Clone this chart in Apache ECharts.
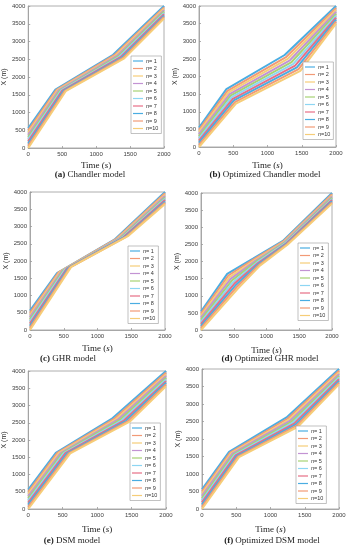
<!DOCTYPE html>
<html><head><meta charset="utf-8">
<script src="https://cdn.jsdelivr.net/npm/echarts@6/dist/echarts.min.js"></script>
<style>html,body{margin:0;padding:0;background:#fff}#c{width:349px;height:550px}</style>
</head><body><div id="c"></div>
<script>
// ---------- data ----------
const seriesNames = ['n= 1','n= 2','n= 3','n= 4','n= 5','n= 6','n= 7','n= 8','n= 9','n=10'];
const xTicks = [0, 500, 1000, 1500, 2000];
const yTicks = [0, 500, 1000, 1500, 2000, 2500, 3000, 3500, 4000];
const captions = ['Chandler model','Optimized Chandler model','GHR model','Optimized GHR model','DSM model','Optimized DSM model'];
const captionLetters = ['(a)','(b)','(c)','(d)','(e)','(f)'];

// (a) Chandler model: [time s, position m]
const chandler = [
  [[0,560],[400,1645],[1250,2625],[2000,4000]],
  [[0,498],[417,1640],[1268,2614],[2000,3961]],
  [[0,436],[434,1635],[1287,2603],[2000,3922]],
  [[0,373],[451,1630],[1305,2592],[2000,3883]],
  [[0,311],[468,1625],[1323,2581],[2000,3844]],
  [[0,249],[484,1620],[1342,2569],[2000,3806]],
  [[0,187],[501,1615],[1360,2558],[2000,3767]],
  [[0,124],[518,1610],[1378,2547],[2000,3728]],
  [[0,62],[535,1605],[1397,2536],[2000,3689]],
  [[0,0],[552,1600],[1415,2525],[2000,3650]]
];
// (b) Optimized Chandler model
const optChandler = [
  [[0,550],[400,1640],[1250,2610],[2000,4000]],
  [[0,489],[416,1594],[1276,2560],[2000,3944]],
  [[0,428],[431,1549],[1301,2510],[2000,3889]],
  [[0,367],[447,1503],[1327,2460],[2000,3833]],
  [[0,306],[462,1458],[1352,2410],[2000,3778]],
  [[0,244],[478,1412],[1378,2360],[2000,3722]],
  [[0,183],[493,1367],[1403,2310],[2000,3667]],
  [[0,122],[509,1321],[1429,2260],[2000,3611]],
  [[0,61],[524,1276],[1454,2210],[2000,3556]],
  [[0,0],[540,1230],[1480,2160],[2000,3500]]
];
// (c) GHR model
const ghr = [
  [[0,560],[400,1650],[1250,2620],[2000,4000]],
  [[0,498],[423,1670],[1272,2631],[2000,3961]],
  [[0,436],[447,1690],[1294,2642],[2000,3922]],
  [[0,373],[470,1710],[1317,2653],[2000,3883]],
  [[0,311],[493,1730],[1339,2664],[2000,3844]],
  [[0,249],[517,1750],[1361,2676],[2000,3806]],
  [[0,187],[540,1770],[1383,2687],[2000,3767]],
  [[0,124],[563,1790],[1406,2698],[2000,3728]],
  [[0,62],[587,1810],[1428,2709],[2000,3689]],
  [[0,0],[610,1830],[1450,2720],[2000,3650]]
];
// (d) Optimized GHR model
const optGhr = [
  [[0,540],[400,1640],[800,2090],[1250,2600],[2000,4000]],
  [[0,480],[418,1591],[811,2067],[1258,2588],[2000,3966]],
  [[0,420],[436,1542],[822,2043],[1266,2576],[2000,3931]],
  [[0,360],[453,1493],[833,2020],[1273,2563],[2000,3897]],
  [[0,300],[471,1444],[844,1997],[1281,2551],[2000,3862]],
  [[0,240],[489,1396],[856,1973],[1289,2539],[2000,3828]],
  [[0,180],[507,1347],[867,1950],[1297,2527],[2000,3793]],
  [[0,120],[524,1298],[878,1927],[1304,2514],[2000,3759]],
  [[0,60],[542,1249],[889,1903],[1312,2502],[2000,3724]],
  [[0,0],[560,1200],[900,1880],[1320,2490],[2000,3690]]
];
// (e) DSM model
const dsm = [
  [[0,560],[400,1630],[1210,2612],[2000,4000]],
  [[0,498],[423,1628],[1240,2604],[2000,3951]],
  [[0,436],[447,1626],[1270,2596],[2000,3902]],
  [[0,373],[470,1623],[1300,2588],[2000,3853]],
  [[0,311],[493,1621],[1330,2580],[2000,3804]],
  [[0,249],[517,1619],[1360,2572],[2000,3756]],
  [[0,187],[540,1617],[1390,2564],[2000,3707]],
  [[0,124],[563,1614],[1420,2556],[2000,3658]],
  [[0,62],[587,1612],[1450,2548],[2000,3609]],
  [[0,0],[610,1610],[1480,2540],[2000,3560]]
];
// (f) Optimized DSM model
const optDsm = [
  [[0,563],[395,1630],[1234,2616],[2000,4000]],
  [[0,500],[411,1613],[1252,2586],[2000,3951]],
  [[0,438],[427,1597],[1271,2557],[2000,3902]],
  [[0,375],[443,1580],[1289,2527],[2000,3853]],
  [[0,313],[459,1563],[1308,2498],[2000,3804]],
  [[0,250],[476,1547],[1326,2468],[2000,3756]],
  [[0,188],[492,1530],[1345,2439],[2000,3707]],
  [[0,125],[508,1513],[1363,2409],[2000,3658]],
  [[0,63],[524,1497],[1382,2380],[2000,3609]],
  [[0,0],[540,1480],[1400,2350],[2000,3560]]
];

// ---------- layout / style ----------
const lineColors = ['#4AADE2','#F29A76','#F6CD78','#C393D3','#A7D274','#8DD6F3','#E76E86','#4AADE2','#F29A76','#F6CD78'];
const panels = [
  {data: chandler,    grid:{left:25, top:6,   width:139, height:142}, yGap:14, xGap:13, lg:{left:131, top:56},  cap:[90,175]},
  {data: optChandler, grid:{left:199,top:6,   width:137, height:141}, yGap:15, xGap:14, lg:{left:303, top:62},  cap:[265,175]},
  {data: ghr,         grid:{left:30, top:192, width:135, height:138}, yGap:18, xGap:14, lg:{left:128, top:246}, cap:[68,359]},
  {data: optGhr,      grid:{left:201,top:193, width:131, height:137}, yGap:17, xGap:16, lg:{left:298, top:243}, cap:[270,359]},
  {data: dsm,         grid:{left:27, top:371, width:139, height:138}, yGap:16, xGap:16, lg:{left:130, top:423}, cap:[72,541]},
  {data: optDsm,      grid:{left:202,top:369, width:137, height:140}, yGap:16, xGap:16, lg:{left:296, top:426}, cap:[272,541]}
];
const axisColor = '#9a9a9a';
const sans = 'Liberation Sans';
const serif = 'Liberation Serif';

const option = {
  animation: false,
  backgroundColor: '#fff',
  grid: [], xAxis: [], yAxis: [], series: [], legend: [], graphic: []
};

panels.forEach((p, i) => {
  option.grid.push(Object.assign({show:true, borderColor:axisColor, borderWidth:0.8, backgroundColor:'#fff', containLabel:false}, p.grid));
  option.xAxis.push({
    type:'value', gridIndex:i,
    min:xTicks[0], max:xTicks[xTicks.length-1], interval:xTicks[1]-xTicks[0],
    axisLine:{show:true, onZero:false, lineStyle:{color:axisColor, width:0.8}},
    axisTick:{show:true, inside:true, length:2, lineStyle:{color:axisColor, width:0.8}},
    axisLabel:{fontSize:6, color:'#404040', margin:3, fontFamily:sans, formatter:(v) => String(v)},
    splitLine:{show:false},
    name:'Time ({it|s})', nameLocation:'middle', nameGap:p.xGap,
    nameTextStyle:{fontFamily:serif, fontSize:9, color:'#222',
      rich:{it:{fontFamily:serif, fontSize:9, fontStyle:'italic', color:'#222'}}}
  });
  option.yAxis.push({
    type:'value', gridIndex:i,
    min:yTicks[0], max:yTicks[yTicks.length-1], interval:yTicks[1]-yTicks[0],
    axisLine:{show:true, onZero:false, lineStyle:{color:axisColor, width:0.8}},
    axisTick:{show:true, inside:true, length:2, lineStyle:{color:axisColor, width:0.8}},
    axisLabel:{fontSize:6, color:'#404040', margin:3, fontFamily:sans, formatter:(v) => String(v)},
    splitLine:{show:false},
    name:'X (m)', nameLocation:'middle', nameGap:p.yGap,
    nameTextStyle:{fontFamily:sans, fontSize:7, color:'#222'}
  });
  p.data.forEach((d, k) => {
    option.series.push({
      type:'line', name:seriesNames[k], xAxisIndex:i, yAxisIndex:i,
      data:d, symbol:'none', silent:true,
      lineStyle:{width:2, color:lineColors[k]}, itemStyle:{color:lineColors[k]}
    });
  });
  option.legend.push({
    data:seriesNames.slice(), orient:'vertical', left:p.lg.left, top:p.lg.top,
    itemWidth:10, itemHeight:5, itemGap:1.5, padding:[2,3,2,2],
    backgroundColor:'#fff', borderColor:'#999', borderWidth:0.6, selectedMode:false,
    icon:'path://M0,2 L10,2 L10,3.2 L0,3.2 Z',
    formatter: (name) => '{i|n}' + name.slice(1),
    textStyle:{fontSize:5.5, color:'#333', fontFamily:sans, padding:[0,0,0,-2],
      rich:{i:{fontSize:5.5, fontStyle:'italic', fontFamily:sans, color:'#333'}}}
  });
  option.graphic.push({
    type:'text', x:p.cap[0], y:p.cap[1], silent:true,
    style:{text:'{b|' + captionLetters[i] + '} ' + captions[i], align:'center', verticalAlign:'middle',
      font:'9px ' + serif, fill:'#222',
      rich:{b:{fontWeight:'bold', fontFamily:serif, fontSize:9, fill:'#222'}}}
  });
});

const chart = echarts.init(document.getElementById('c'), null, {renderer:'canvas'});
chart.setOption(option);
</script>
</body></html>
